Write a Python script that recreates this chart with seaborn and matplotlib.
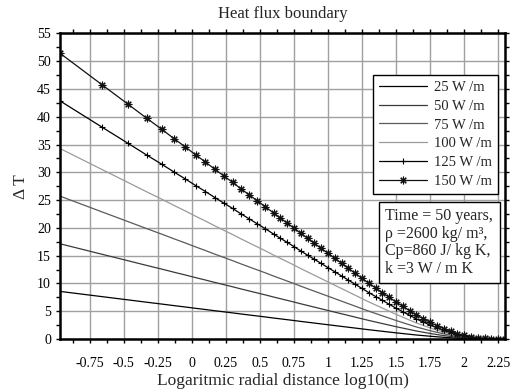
import numpy as np
import pandas as pd
import matplotlib
matplotlib.use("Agg")
import matplotlib.pyplot as plt
import seaborn as sns
from matplotlib.ticker import MultipleLocator

# ---- data ----
log_r = [-0.97, -0.66, -0.47, -0.33, -0.22, -0.13, -0.05, 0.03, 0.10, 0.17, 0.24, 0.30,
         0.36, 0.42, 0.48, 0.54, 0.60, 0.65, 0.70, 0.75, 0.80, 0.85, 0.90, 0.95, 1.00,
         1.05, 1.10, 1.15, 1.20, 1.25, 1.30, 1.35, 1.40, 1.45, 1.50, 1.55, 1.60, 1.65,
         1.70, 1.75, 1.80, 1.85, 1.90, 1.95, 2.00, 2.05, 2.10, 2.15, 2.20, 2.25, 2.30]

dT_25 = [8.58, 7.63, 7.05, 6.62, 6.29, 6.01, 5.77, 5.52, 5.31, 5.09, 4.88, 4.70, 4.51,
         4.33, 4.15, 3.97, 3.78, 3.63, 3.48, 3.33, 3.17, 3.02, 2.87, 2.72, 2.57, 2.42,
         2.27, 2.12, 1.97, 1.82, 1.67, 1.53, 1.39, 1.25, 1.11, 0.98, 0.85, 0.72, 0.61,
         0.50, 0.40, 0.31, 0.23, 0.16, 0.11, 0.07, 0.04, 0.02, 0.01, 0.00, 0.00]
dT_50 = [17.16, 15.26, 14.10, 13.24, 12.58, 12.02, 11.54, 11.04, 10.62, 10.18, 9.76, 9.40,
         9.02, 8.66, 8.30, 7.94, 7.56, 7.26, 6.96, 6.66, 6.34, 6.04, 5.74, 5.44, 5.14,
         4.84, 4.54, 4.24, 3.94, 3.64, 3.34, 3.06, 2.78, 2.50, 2.22, 1.96, 1.70, 1.44,
         1.22, 1.00, 0.80, 0.62, 0.46, 0.32, 0.22, 0.14, 0.08, 0.04, 0.02, 0.01, 0.00]
dT_75 = [25.74, 22.89, 21.15, 19.86, 18.87, 18.03, 17.31, 16.56, 15.93, 15.27, 14.64, 14.10,
         13.53, 12.99, 12.45, 11.91, 11.34, 10.89, 10.44, 9.99, 9.51, 9.06, 8.61, 8.16, 7.71,
         7.26, 6.81, 6.36, 5.91, 5.46, 5.01, 4.59, 4.17, 3.75, 3.33, 2.94, 2.55, 2.16,
         1.83, 1.50, 1.20, 0.93, 0.69, 0.48, 0.33, 0.21, 0.12, 0.06, 0.03, 0.01, 0.00]
dT_100 = [34.32, 30.52, 28.20, 26.48, 25.16, 24.04, 23.08, 22.08, 21.24, 20.36, 19.52, 18.80,
          18.04, 17.32, 16.60, 15.88, 15.12, 14.52, 13.92, 13.32, 12.68, 12.08, 11.48, 10.88,
          10.28, 9.68, 9.08, 8.48, 7.88, 7.28, 6.68, 6.12, 5.56, 5.00, 4.44, 3.92, 3.40, 2.88,
          2.44, 2.00, 1.60, 1.24, 0.92, 0.64, 0.44, 0.28, 0.16, 0.08, 0.04, 0.01, 0.00]
dT_125 = [42.90, 38.15, 35.25, 33.10, 31.45, 30.05, 28.85, 27.60, 26.55, 25.45, 24.40, 23.50,
          22.55, 21.65, 20.75, 19.85, 18.90, 18.15, 17.40, 16.65, 15.85, 15.10, 14.35, 13.60,
          12.85, 12.10, 11.35, 10.60, 9.85, 9.10, 8.35, 7.65, 6.95, 6.25, 5.55, 4.90, 4.25,
          3.60, 3.05, 2.50, 2.00, 1.55, 1.15, 0.80, 0.55, 0.35, 0.20, 0.10, 0.05, 0.01, 0.00]
dT_150 = [51.48, 45.78, 42.30, 39.72, 37.74, 36.06, 34.62, 33.12, 31.86, 30.54, 29.28, 28.20,
          27.06, 25.98, 24.90, 23.82, 22.68, 21.78, 20.88, 19.98, 19.02, 18.12, 17.22, 16.32,
          15.42, 14.52, 13.62, 12.72, 11.82, 10.92, 10.02, 9.18, 8.34, 7.50, 6.66, 5.88, 5.10,
          4.32, 3.66, 3.00, 2.40, 1.86, 1.38, 0.96, 0.66, 0.42, 0.24, 0.12, 0.06, 0.01, 0.00]

series_labels = ["25 W /m", "50 W /m", "75 W /m", "100 W /m", "125 W /m", "150 W /m"]
series_values = [dT_25, dT_50, dT_75, dT_100, dT_125, dT_150]

title = "Heat flux boundary"
xlabel = "Logaritmic radial distance log10(m)"
ylabel = "Δ T"
info_text = "Time = 50 years,\nρ =2600 kg/ m³,\nCp=860 J/ kg K,\nk =3 W / m K"
x_ticks = [-0.75, -0.5, -0.25, 0, 0.25, 0.5, 0.75, 1, 1.25, 1.5, 1.75, 2, 2.25]
x_ticklabels = ["-0.75", "-0.5", "-0.25", "0", "0.25", "0.5", "0.75", "1", "1.25",
                "1.5", "1.75", "2", "2.25"]

# ---- styling ----
sns.set_theme(style="white")
plt.rcParams["font.family"] = ["Liberation Serif", "DejaVu Serif"]

styles = [
    dict(color="#000000", lw=0.9, marker=None),
    dict(color="#3a3a3a", lw=0.9, marker=None),
    dict(color="#5a5a5a", lw=0.9, marker=None),
    dict(color="#9a9a9a", lw=0.9, marker=None),
    dict(color="#000000", lw=0.9, marker="+", ms=5, mew=0.8),
    dict(color="#111111", lw=0.9, marker=(8, 2, 0), ms=5.5, mew=0.8),
]

fig = plt.figure(figsize=(5.15, 3.89), dpi=100)
ax = fig.add_axes([0.1165, 0.1285, 0.8641, 0.7854])

for lab, vals, st in zip(series_labels, series_values, styles):
    df = pd.DataFrame({"x": log_r, "y": vals})
    kw = dict(color=st["color"], linewidth=st["lw"], label=lab)
    if st["marker"] is not None:
        kw.update(marker=st["marker"], markersize=st["ms"], markeredgewidth=st["mew"],
                  markeredgecolor=st["color"])
    sns.lineplot(data=df, x="x", y="y", ax=ax, estimator=None, sort=False, **kw)

ax.set_xlim(-0.968, 2.30)
ax.set_ylim(0, 55)
ax.set_xticks(x_ticks)
ax.set_xticklabels(x_ticklabels)
ax.yaxis.set_major_locator(MultipleLocator(5))
ax.xaxis.set_minor_locator(MultipleLocator(0.125))
ax.yaxis.set_minor_locator(MultipleLocator(2.5))
ax.grid(True, which="major", color="#a0a0a0", linewidth=1.0)
ax.set_axisbelow(True)

for s in ax.spines.values():
    s.set_visible(True)
    s.set_color("black")
    s.set_linewidth(1.8)

ax.tick_params(axis="both", which="both", direction="out", top=True, right=True,
               bottom=True, left=True, length=3, width=1, colors="black",
               labelsize=10, labeltop=False, labelright=False)
ax.tick_params(axis="x", pad=10)

ax.set_title(title, fontsize=12, pad=11)
ax.set_xlabel(xlabel, fontsize=12.5, labelpad=2)
ax.set_ylabel(ylabel, fontsize=12.5, labelpad=6)

leg = ax.legend(loc="upper left", bbox_to_anchor=(0.703, 0.864), fontsize=10.5,
                frameon=True, fancybox=False, edgecolor="black", framealpha=1,
                handlelength=3.3, handletextpad=0.5, labelspacing=0.38,
                borderpad=0.4, borderaxespad=0)
leg.get_frame().set_linewidth(1.0)

ax.text(0.731, 0.428, info_text, transform=ax.transAxes, ha="left", va="top",
        fontsize=11.5, linespacing=1.12,
        bbox=dict(boxstyle="square,pad=0.42", facecolor="white", edgecolor="black",
                  linewidth=1.0))

fig.savefig("out.png", dpi=100)
